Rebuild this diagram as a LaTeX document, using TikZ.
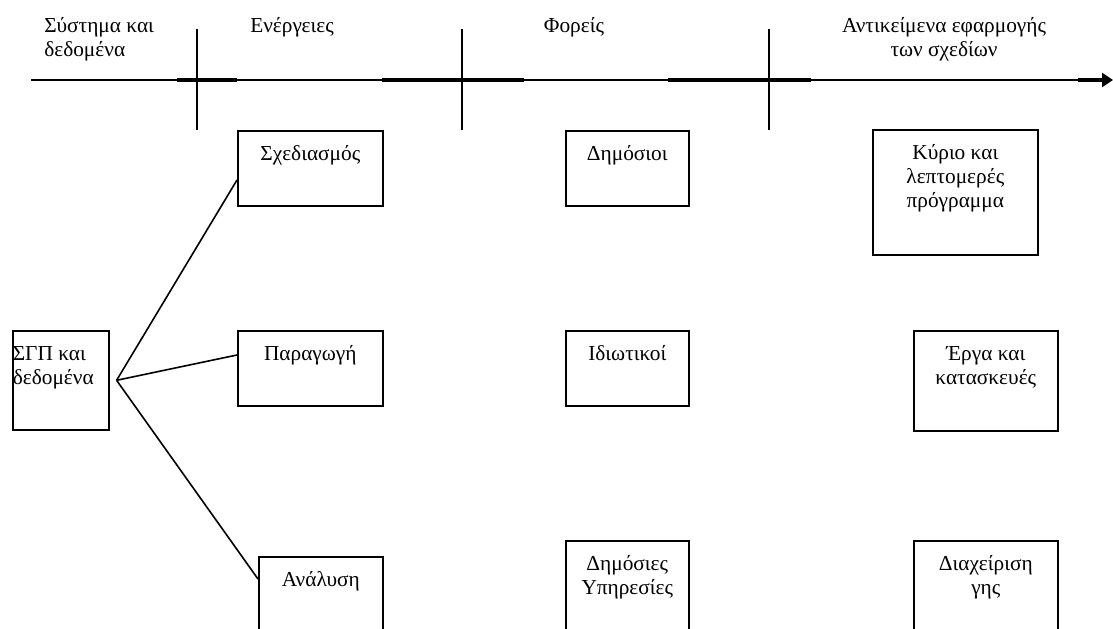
\documentclass[tikz,border=0pt]{standalone}
\usepackage{fontspec}
\setmainfont{Liberation Serif}
\usetikzlibrary{arrows.meta, positioning, calc}

\newlength\px
\setlength\px{0.75pt}
% box with its text at the top
\newcommand{\cell}[3]{\parbox[t][#2\px][t]{#1\px}{\centering\rule{0pt}{30\px}#3}}

\begin{document}
\begin{tikzpicture}[x=0.75pt, y=-0.75pt, font=\fontsize{16}{18}\selectfont,
  blk/.style={draw, line width=1.2pt, inner sep=0pt, anchor=north west},
  ttl/.style={inner sep=0pt, anchor=north, align=center}]
\clip (0,0) rectangle (1113,628);

% time axis
\draw[line width=1.4pt] (31,80) -- (1080,80);
\foreach \a/\b in {177/237, 382/524, 668/811}
  \draw[line width=3pt] (\a,80) -- (\b,80);
\draw[line width=3pt, -{Triangle[length=8.25pt, width=10.5pt]}] (1078,80) -- (1113,80);
\foreach \x in {197, 462, 769}
  \draw[line width=1.2pt] (\x,29) -- (\x,130);

% headings
\node[ttl, anchor=north west, align=left] (sys) at (44,17) {Σύστημα και\\δεδομένα};
\node[ttl] (act) at (292,17) {Ενέργειες};
\node[ttl] (agt) at (574,17) {Φορείς};
\node[ttl] (obj) at (944,17) {Αντικείμενα εφαρμογής\\των σχεδίων};

% boxes
\node[blk] (gis) at (12,330) {\cell{96}{99}{\raggedright ΣΓΠ και\\δεδομένα}};
\node[blk] (plan) at (237,130) {\cell{145}{75}{Σχεδιασμός}};
\node[blk] (prod) at (237,330) {\cell{145}{75}{Παραγωγή}};
\node[blk] (anal) at (258,556) {\cell{124}{100}{Ανάλυση}};
\node[blk] (pub) at (565,130) {\cell{123}{75}{Δημόσιοι}};
\node[blk] (priv) at (565,330) {\cell{123}{75}{Ιδιωτικοί}};
\node[blk] (serv) at (565,540) {\cell{123}{110}{Δημόσιες\\Υπηρεσίες}};
\node[blk] (prog) at (872,129) {\cell{165}{125}{Κύριο και\\λεπτομερές\\πρόγραμμα}};
\node[blk] (works) at (913,330) {\cell{144}{100}{Έργα και\\κατασκευές}};
\node[blk] (land) at (913,540) {\cell{144}{110}{Διαχείριση\\γης}};

% fork
\coordinate (fork) at ($(gis.east)+(7,0)$);
\draw[line width=1.2pt] (fork) -- ([yshift=-37.5pt]plan.north west);
\draw[line width=1.2pt] (fork) -- ([yshift=-18.75pt]prod.north west);
\draw[line width=1.2pt] (fork) -- ([yshift=-17.25pt]anal.north west);
\end{tikzpicture}
\end{document}
